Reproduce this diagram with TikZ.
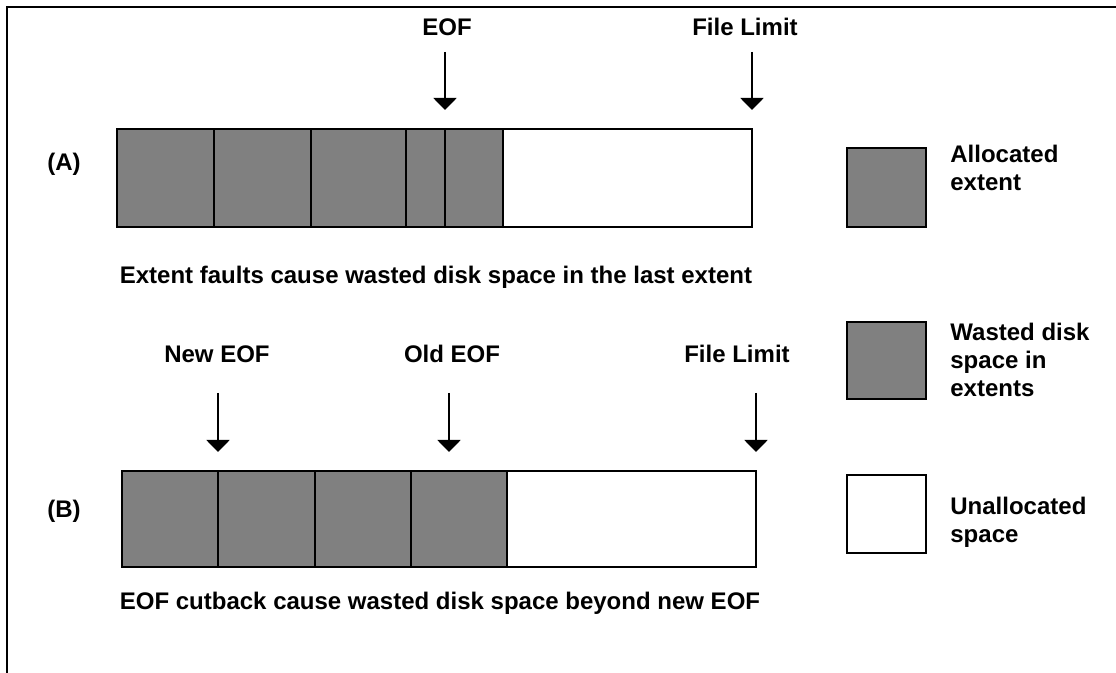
\documentclass[tikz,border=0pt]{standalone}
\usepackage{fontspec}
\setmainfont{Liberation Sans}
\usetikzlibrary{arrows.meta}
\begin{document}
\begin{tikzpicture}[>={Triangle[width=11.5pt,length=6pt]},x=0.5pt,y=-0.5pt,
  font=\fontsize{12}{14}\selectfont\bfseries,
  cell/.style={fill=gray,draw,line width=1.1pt},
  free/.style={fill=white,draw,line width=1.1pt},
  pointer/.style={->,line width=1pt},
  legend/.style={anchor=north west,align=left,inner sep=0pt}]
  \useasboundingbox (0,0) rectangle (1116,673);
  % frame
  \draw[line width=1pt] (1116,7) -- (7,7) -- (7,673);
  % row (A): extents
  \draw[free] (503,129) rectangle (752,227);
  \draw[cell] (117,129) rectangle (214,227);
  \draw[cell] (214,129) rectangle (311,227);
  \draw[cell] (311,129) rectangle (406,227);
  \draw[cell] (406,129) rectangle (445,227);
  \draw[cell] (445,129) rectangle (503,227);
  % row (B): extents
  \draw[free] (507,471) rectangle (756,567);
  \draw[cell] (122,471) rectangle (218,567);
  \draw[cell] (218,471) rectangle (315,567);
  \draw[cell] (315,471) rectangle (411,567);
  \draw[cell] (411,471) rectangle (507,567);
  % arrow ends
  \coordinate (eofA1) at (445,52);
  \coordinate (eofA2) at (445,110);
  \coordinate (limA1) at (752,52);
  \coordinate (limA2) at (752,110);
  \coordinate (neweof1) at (218,393);
  \coordinate (neweof2) at (218,452);
  \coordinate (oldeof1) at (449,393);
  \coordinate (oldeof2) at (449,452);
  \coordinate (limB1) at (756,393);
  \coordinate (limB2) at (756,452);
  % pointer labels
  \node[anchor=base] (eofA) at (447,36) {EOF};
  \node[anchor=base] (limA) at (745,36) {File Limit};
  \node[anchor=base] (neweof) at (217,363) {New EOF};
  \node[anchor=base] (oldeof) at (452,363) {Old EOF};
  \node[anchor=base] (limB) at (737,363) {File Limit};
  % pointers
  \draw[pointer] (eofA1) -- (eofA2);
  \draw[pointer] (limA1) -- (limA2);
  \draw[pointer] (neweof1) -- (neweof2);
  \draw[pointer] (oldeof1) -- (oldeof2);
  \draw[pointer] (limB1) -- (limB2);
  % row names and captions
  \node[anchor=base] (rowA) at (64,171) {(A)};
  \node[anchor=base] (rowB) at (64,518) {(B)};
  \node[anchor=base] (capA) at (436,284) {Extent faults cause wasted disk space in the last extent};
  \node[anchor=base] (capB) at (440,610) {EOF cutback cause wasted disk space beyond new EOF};
  % legend
  \draw[cell] (847,148) rectangle (926,227);
  \draw[cell] (847,322) rectangle (926,399);
  \draw[free] (847,475) rectangle (926,553);
  \node[legend] (legAlloc) at (950,145) {Allocated\\extent};
  \node[legend] (legWaste) at (950,323) {Wasted disk\\space in\\extents};
  \node[legend] (legFree) at (950,497) {Unallocated\\space};
\end{tikzpicture}
\end{document}
